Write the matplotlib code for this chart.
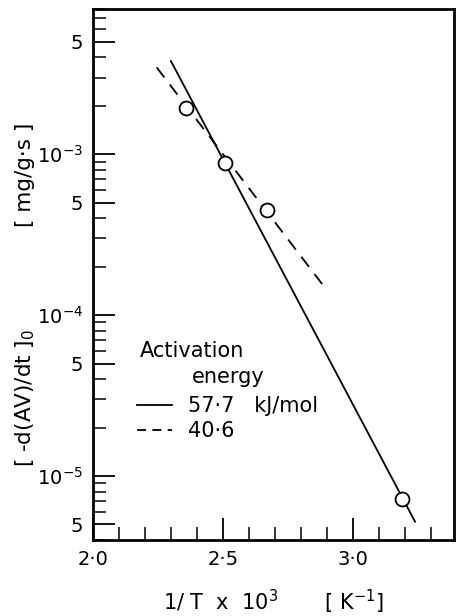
import matplotlib
matplotlib.use("Agg")
import matplotlib.pyplot as plt
import numpy as np
from matplotlib.ticker import FixedLocator, FixedFormatter, NullFormatter

# data
x_pts = [2.36, 2.51, 2.67, 3.19]
y_pts = [1.95e-3, 8.8e-4, 4.5e-4, 7.2e-6]
solid_x = [2.30, 3.24]
solid_y = [3.8e-3, 5.2e-6]
dash_x = [2.245, 2.885]
dash_y = [3.47e-3, 1.54e-4]
x_major = [2.0, 2.5, 3.0]
x_major_labels = ["2·0", "2·5", "3·0"]
y_major = [5e-6, 1e-5, 5e-5, 1e-4, 5e-4, 1e-3, 5e-3]
y_major_labels = ["5", "$10^{-5}$", "5", "$10^{-4}$", "5", "$10^{-3}$", "5"]

plt.rcParams['font.family'] = ['DejaVu Sans']
plt.rcParams['mathtext.fontset'] = 'dejavusans'

fig = plt.figure(figsize=(4.61, 6.16), dpi=100)
ax = fig.add_axes([93/461, 76/616, (454-93)/461, (540-9)/616])

ax.set_yscale('log')
ax.set_xlim(2.0, 3.39)
ax.set_ylim(4.0e-6, 8.0e-3)

ax.plot(solid_x, solid_y, color='black', lw=1.3)
ax.plot(dash_x, dash_y, color='black', lw=1.3, dashes=(7, 5))
ax.plot(x_pts, y_pts, 'o', ms=10, mfc='white', mec='black', mew=1.3, zorder=5)

for s in ax.spines.values():
    s.set_linewidth(2.0)

ax.xaxis.set_major_locator(FixedLocator(x_major))
ax.xaxis.set_major_formatter(FixedFormatter(x_major_labels))
ax.xaxis.set_minor_locator(FixedLocator(np.arange(2.1, 3.39, 0.1)))
ax.yaxis.set_major_locator(FixedLocator(y_major))
ax.yaxis.set_major_formatter(FixedFormatter(y_major_labels))
minors = []
for d in [1e-6, 1e-5, 1e-4, 1e-3]:
    for m in [2, 3, 4, 6, 7, 8, 9]:
        minors.append(m * d)
ax.yaxis.set_minor_locator(FixedLocator(minors))
ax.yaxis.set_minor_formatter(NullFormatter())

ax.tick_params(which='major', direction='in', length=16, width=1.3, labelsize=14, pad=7)
ax.tick_params(which='minor', direction='in', length=9.5, width=1.1)
ax.tick_params(top=False, right=False)

ax.set_xlabel("1/ T  x  10$^3$       [ K$^{-1}$]", fontsize=15, labelpad=14)

fig.text(25/461, 1 - 398/616, "[ -d(AV)/dt ]$_0$", rotation=90, fontsize=15.5,
         ha='center', va='center')
fig.text(25/461, 1 - 175/616, "[ mg/g·s ]", rotation=90, fontsize=15.5,
         ha='center', va='center')

# legend
fig.text(140/461, 1 - 351/616, "Activation", fontsize=15, va='center', ha='left')
fig.text(192/461, 1 - 377/616, "energy", fontsize=15, va='center', ha='left')
fig.lines.append(plt.Line2D([137/461, 172/461], [1 - 405/616] * 2, color='black', lw=1.3,
                            transform=fig.transFigure))
fig.lines.append(plt.Line2D([137/461, 172/461], [1 - 430/616] * 2, color='black', lw=1.3,
                            dashes=(5, 3.5), transform=fig.transFigure))
fig.text(188/461, 1 - 406/616, "57·7   kJ/mol", fontsize=15, va='center', ha='left')
fig.text(188/461, 1 - 431/616, "40·6", fontsize=15, va='center', ha='left')

fig.savefig("out.png", dpi=100)
